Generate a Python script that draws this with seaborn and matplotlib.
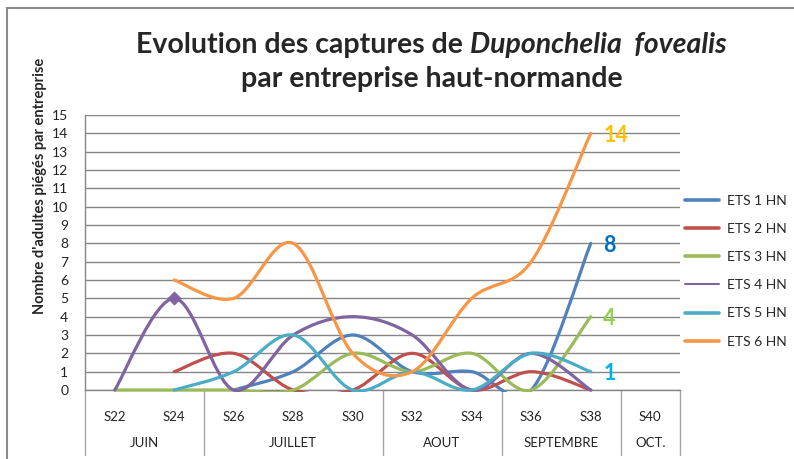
import numpy as np
import matplotlib
matplotlib.use('Agg')
import matplotlib.pyplot as plt
import matplotlib.transforms as mtransforms
from matplotlib.path import Path
from matplotlib.patches import PathPatch, Rectangle
from matplotlib.lines import Line2D
import seaborn as sns

sns.set_style('white')
plt.rcParams['font.family'] = ['Lato', 'DejaVu Sans']

# Data (weekly trap counts)
weeks = ['S22', 'S24', 'S26', 'S28', 'S30', 'S32', 'S34', 'S36', 'S38', 'S40']
months = ['JUIN', 'JUILLET', 'AOUT', 'SEPTEMBRE', 'OCT.']
month_span = [2, 3, 2, 2, 1]
nan = np.nan
ets1 = [nan, nan, 0, 1, 3, 1, 1, 0, 8]
ets2 = [nan, 1, 2, 0, 0, 2, 0, 1, 0]
ets3 = [0, 0, 0, 0, 2, 1, 2, 0, 4]
ets4 = [0, 5, 0, 3, 4, 3, 0, 2, 0]
ets5 = [nan, 0, 1, 3, 0, 1, 0, 2, 1]
ets6 = [nan, 6, 5, 8, 2, 1, 5, 7, 14]
series_names = ['ETS 1 HN', 'ETS 2 HN', 'ETS 3 HN', 'ETS 4 HN', 'ETS 5 HN', 'ETS 6 HN']
series_values = [ets1, ets2, ets3, ets4, ets5, ets6]
colors = ['#4F81BD', '#C0504D', '#9BBB59', '#8064A2', '#4BACC6', '#F79646']

# end labels (last value of some series)
end_series = [5, 0, 2, 4]
end_colors = ['#FFC000', '#0070C0', '#92D050', '#00B0F0']


def smooth_path(xs, ys):
    # Excel style smoothed line: cubic bezier through every point
    pts = [(x, y) for x, y in zip(xs, ys) if not np.isnan(y)]
    n = len(pts)
    verts = [pts[0]]
    codes = [Path.MOVETO]
    for i in range(n - 1):
        p0 = pts[max(i - 1, 0)]
        p1 = pts[i]
        p2 = pts[i + 1]
        p3 = pts[min(i + 2, n - 1)]
        c1 = (p1[0] + (p2[0] - p0[0]) / 6, p1[1] + (p2[1] - p0[1]) / 6)
        c2 = (p2[0] - (p3[0] - p1[0]) / 6, p2[1] - (p3[1] - p1[1]) / 6)
        verts += [c1, c2, p2]
        codes += [Path.CURVE4] * 3
    return Path(verts, codes)


W, H = 794, 459
fig = plt.figure(figsize=(W / 100, H / 100), dpi=100)
ax = fig.add_axes([85 / W, 1 - 390 / H, 595 / W, 275 / H])
ax.set_xlim(-0.5, len(weeks) - 0.5)
ax.set_ylim(0, 15)

x = np.arange(len(weeks))
for vals, col in zip(series_values, colors):
    patch = PathPatch(smooth_path(x, vals), fill=False, edgecolor=col, lw=2.3,
                      joinstyle='round', capstyle='round', zorder=3)
    ax.add_patch(patch)
    clip = Rectangle((-0.5, -0.12), len(weeks), 15.5, transform=ax.transData)
    patch.set_clip_path(clip)

# the single marker on ETS 4
sns.scatterplot(x=[x[1]], y=[ets4[1]], marker='D', s=45, color=colors[3],
                edgecolor=colors[3], ax=ax, zorder=4, legend=False)

for idx, col in zip(end_series, end_colors):
    last = len(series_values[idx]) - 1
    ax.annotate(str(int(series_values[idx][last])), xy=(x[last], series_values[idx][last]),
                xytext=(9, -1.5), textcoords='offset points', color=col,
                fontsize=15.5, fontweight='bold', va='center', ha='left',
                annotation_clip=False)

# axes styling
ax.set_yticks(range(16))
ax.yaxis.grid(True, color='#868686', lw=1)
ax.xaxis.grid(False)
ax.set_axisbelow(True)
for s in ['top', 'right']:
    ax.spines[s].set_visible(False)
for s in ['left', 'bottom']:
    ax.spines[s].set_color('#868686')
    ax.spines[s].set_linewidth(1)
ax.set_xticks(x, weeks)
ax.tick_params(axis='x', length=0, pad=15, labelsize=9.5, labelcolor='#222222')
ax.tick_params(axis='y', length=0, pad=12, labelsize=10, labelcolor='#222222')
for lab in ax.get_yticklabels():
    lab.set_horizontalalignment('right')

# month groups below the week labels
trans = mtransforms.blended_transform_factory(ax.transData, ax.transAxes)
bounds = np.concatenate([[0], np.cumsum(month_span)]) - 0.5
for b in bounds:
    ax.plot([b, b], [0, -65 / 275], transform=trans, color='#A6A6A6', lw=1, clip_on=False)
for m, lo, hi in zip(months, bounds[:-1], bounds[1:]):
    ax.text((lo + hi) / 2, -53 / 275, m, transform=trans, ha='center', va='center',
            fontsize=9.5, color='#222222')

# legend
handles = []
for name, col in zip(series_names, colors):
    handles.append(Line2D([], [], color=col, lw=1.5 if name == 'ETS 4 HN' else 2.6))
fig.legend(handles, series_names, loc='upper left', bbox_to_anchor=(685 / W, 1 - 195 / H),
           frameon=False, fontsize=10, handlelength=2.45, handletextpad=0.6,
           labelspacing=1.16, borderpad=0, borderaxespad=0)

# titles
fig.text(40 / W, 1 - 186 / H, "Nombre d'adultes piégés par entreprise", rotation=90,
         ha='center', va='center', fontsize=10.5, fontweight='bold')

t1 = fig.text(0, 1 - 45 / H, 'Evolution des captures de ', fontsize=20.5, fontweight='bold',
              va='center', ha='left')
t2 = fig.text(0, 1 - 45 / H, 'Duponchelia  fovealis', fontsize=20.5, fontweight='bold',
              style='italic', va='center', ha='left')
fig.canvas.draw()
r = fig.canvas.get_renderer()
w1 = t1.get_window_extent(r).width
w2 = t2.get_window_extent(r).width
x0 = 431 - (w1 + w2) / 2
t1.set_x(x0 / W)
t2.set_x((x0 + w1) / W)
fig.text(432 / W, 1 - 79 / H, 'par entreprise haut-normande', fontsize=20.5, fontweight='bold',
         va='center', ha='center')

# chart area border (cut off on the right and at the bottom)
fig.add_artist(Rectangle((7 / W, -0.1), 1.2, (H - 8) / H + 0.1, transform=fig.transFigure,
                         fill=False, edgecolor='#8C8C8C', lw=1.5))

fig.savefig('out.png', dpi=100)
